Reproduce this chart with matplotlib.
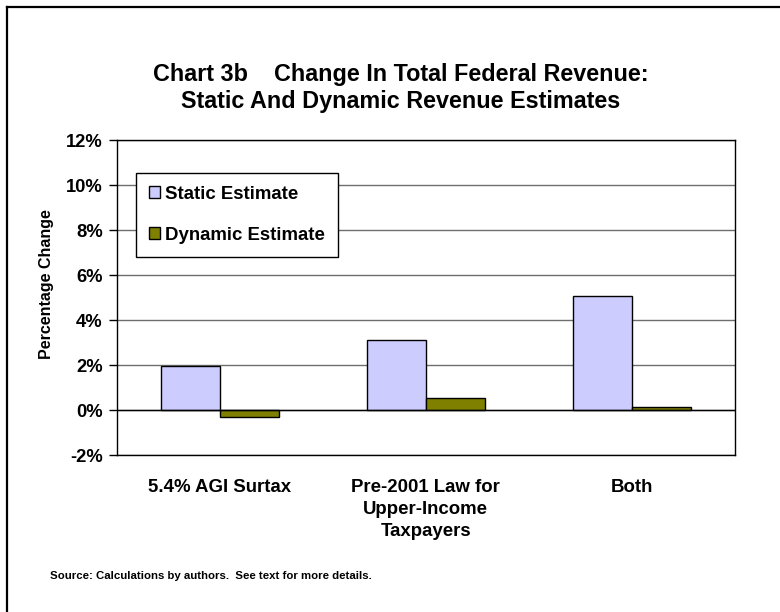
import matplotlib
matplotlib.use("Agg")
import matplotlib.pyplot as plt
import numpy as np
from matplotlib.lines import Line2D

plt.rcParams['font.family'] = ['Liberation Sans', 'DejaVu Sans']
plt.rcParams['font.weight'] = 'bold'

categories = ["5.4% AGI Surtax", "Pre-2001 Law for\nUpper-Income\nTaxpayers", "Both"]
static_estimate = [1.95, 3.1, 5.07]
dynamic_estimate = [-0.3, 0.52, 0.15]
series_names = ["Static Estimate", "Dynamic Estimate"]
y_ticks = [-2, 0, 2, 4, 6, 8, 10, 12]

fig = plt.figure(figsize=(7.8, 6.12), dpi=100)
fig.patch.set_facecolor('white')

ax = fig.add_axes([0.1496, 0.2565, 0.9419 - 0.1496, 0.7712 - 0.2565])

x = np.arange(len(categories))
w = 1 / 3.5
ax.bar(x - w / 2, static_estimate, width=w, color='#CCCCFF', edgecolor='black',
       linewidth=1.0, label=series_names[0], zorder=3)
ax.bar(x + w / 2, dynamic_estimate, width=w, color='#808000', edgecolor='black',
       linewidth=1.0, label=series_names[1], zorder=3)

ax.set_xlim(-0.5, len(categories) - 0.5)
ax.set_ylim(-2, 12)
ax.set_yticks(y_ticks)
ax.set_yticklabels([f"{t}%" for t in y_ticks], fontsize=13.2, fontweight='bold')
ax.set_xticks(x)
ax.set_xticklabels(categories, fontsize=13.4, fontweight='bold', linespacing=1.4,
                   va='top')
ax.tick_params(axis='x', length=0, pad=17)
ax.tick_params(axis='y', length=6, width=1, pad=4, direction='out')

ax.yaxis.grid(True, color='#6e6e6e', linewidth=1.0, zorder=0)
ax.set_axisbelow(True)
ax.axhline(0, color='black', linewidth=1.0, zorder=4)
for s in ax.spines.values():
    s.set_color('black')
    s.set_linewidth(1.0)

ax.set_ylabel("Percentage Change", fontsize=11.5, fontweight='bold')
ax.yaxis.set_label_coords((54 - 116.7) / 618, (455 - 284) / 315)

leg = ax.legend(loc='upper left', bbox_to_anchor=(136 / 780, 1 - 173 / 612),
                bbox_transform=fig.transFigure, borderaxespad=0,
                fontsize=13.4, frameon=True, fancybox=False, shadow=False,
                handlelength=0.6, handleheight=0.6, handletextpad=0.3,
                labelspacing=1.3, borderpad=0.68)
leg.get_frame().set_edgecolor('black')
leg.get_frame().set_linewidth(1.0)
leg.get_frame().set_alpha(1.0)
for t in leg.get_texts():
    t.set_fontweight('bold')

fig.text(0.514, 1 - 88 / 612,
         "Chart 3b    Change In Total Federal Revenue:\nStatic And Dynamic Revenue Estimates",
         ha='center', va='center', fontsize=16.8, fontweight='bold', linespacing=1.2)

fig.text(50 / 780, 1 - 576 / 612,
         "Source: Calculations by authors.  See text for more details.",
         ha='left', va='center', fontsize=8.2, fontweight='bold')

# Outer chart frame (left and top edges)
fig.add_artist(Line2D([7 / 780, 7 / 780], [0, 1 - 7 / 612], transform=fig.transFigure,
                      color='black', linewidth=1.6))
fig.add_artist(Line2D([7 / 780, 1], [1 - 7 / 612, 1 - 7 / 612], transform=fig.transFigure,
                      color='black', linewidth=1.6))

fig.savefig("out.png", dpi=100)
